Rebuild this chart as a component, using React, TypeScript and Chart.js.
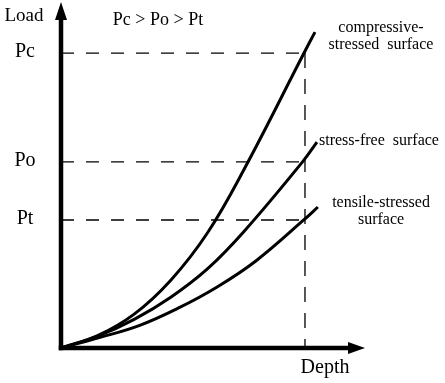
import React, { useEffect, useRef } from "react";
import { Chart, registerables } from "chart.js";

Chart.register(...registerables);

// Load levels on the y axis (Pc, Po, Pt) and the depth mark on the x axis
const loadLevels = [10, 6.31, 4.34];
const loadLabels = ["Pc", "Po", "Pt"];
const depthMark = 10;

// Curve readings (depth, load)
const compressiveX = [0, 1.5, 3, 4.5, 6, 7.5, 9.96, 10.41];
const compressiveY = [0, 0.42, 1.15, 2.3, 3.9, 6.05, 10, 10.71];
const stressFreeX = [0, 1.5, 3, 4.5, 6, 7.5, 9.9, 10.49];
const stressFreeY = [0, 0.4, 0.97, 1.72, 2.68, 3.95, 6.31, 6.98];
const tensileX = [0, 1.6, 3.2, 4.8, 6.4, 8, 9.95, 10.53];
const tensileY = [0, 0.36, 0.76, 1.35, 2.07, 2.96, 4.34, 4.78];

const axisMaxX = 12.46;
const axisMaxY = 11.73;

const SERIF = "'Liberation Serif', 'Times New Roman', serif";

const toPoints = (xs: number[], ys: number[]) => xs.map((x, i) => ({ x, y: ys[i] }));

const decorPlugin = {
  id: "decor",
  afterDraw(chart: any) {
    const ctx = chart.ctx as CanvasRenderingContext2D;
    const xs = chart.scales.x;
    const ys = chart.scales.y;
    const x0 = xs.getPixelForValue(0);
    const y0 = ys.getPixelForValue(0);
    const xEnd = xs.getPixelForValue(axisMaxX);
    const yEnd = ys.getPixelForValue(axisMaxY);
    ctx.save();
    ctx.strokeStyle = "#000";
    ctx.fillStyle = "#000";
    ctx.lineWidth = 4.5;
    ctx.lineCap = "butt";
    // y axis
    ctx.beginPath();
    ctx.moveTo(x0, y0 + 2.25);
    ctx.lineTo(x0, yEnd + 16);
    ctx.stroke();
    // x axis
    ctx.beginPath();
    ctx.moveTo(x0 - 2.25, y0);
    ctx.lineTo(xEnd - 15, y0);
    ctx.stroke();
    // arrows
    ctx.beginPath();
    ctx.moveTo(x0, yEnd);
    ctx.lineTo(x0 - 6, yEnd + 18);
    ctx.lineTo(x0 + 6, yEnd + 18);
    ctx.closePath();
    ctx.fill();
    ctx.beginPath();
    ctx.moveTo(xEnd, y0);
    ctx.lineTo(xEnd - 17, y0 - 6);
    ctx.lineTo(xEnd - 17, y0 + 6);
    ctx.closePath();
    ctx.fill();

    // texts
    ctx.textAlign = "center";
    ctx.textBaseline = "middle";
    ctx.font = `20px ${SERIF}`;
    loadLevels.forEach((v, i) => {
      ctx.fillText(loadLabels[i], x0 - 36, ys.getPixelForValue(v) - 1);
    });
    ctx.font = `19px ${SERIF}`;
    ctx.fillText("Load", 24, 16);
    ctx.font = `20px ${SERIF}`;
    ctx.fillText("Depth", 325, 368);
    ctx.font = `18px ${SERIF}`;
    ctx.fillText("Pc > Po > Pt", 158, 20);

    ctx.font = `16px ${SERIF}`;
    ctx.fillText("compressive-", 381, 28);
    ctx.fillText("stressed  surface", 381, 45);
    ctx.textAlign = "left";
    ctx.fillText("stress-free  surface", 319, 141);
    ctx.textAlign = "center";
    ctx.fillText("tensile-stressed", 381, 203);
    ctx.fillText("surface", 381, 220);
    ctx.restore();
  },
};

export default function App() {
  const ref = useRef<HTMLCanvasElement | null>(null);
  useEffect(() => {
    if (!ref.current) return;
    const curveStyle = {
      showLine: true,
      borderColor: "#000",
      borderWidth: 3,
      pointRadius: 0,
      tension: 0.4,
      fill: false,
    };
    const dashStyle = {
      showLine: true,
      borderColor: "#000",
      borderWidth: 1.3,
      pointRadius: 0,
      fill: false,
    };
    const datasets: any[] = [
      { label: "compressive-stressed surface", data: toPoints(compressiveX, compressiveY), ...curveStyle },
      { label: "stress-free surface", data: toPoints(stressFreeX, stressFreeY), ...curveStyle },
      { label: "tensile-stressed surface", data: toPoints(tensileX, tensileY), ...curveStyle },
      ...loadLevels.map((v, i) => ({
        label: loadLabels[i] + " level",
        data: [{ x: 0, y: v }, { x: depthMark, y: v }],
        borderDash: [13, 12],
        ...dashStyle,
      })),
      {
        label: "depth mark",
        data: [{ x: depthMark, y: loadLevels[0] }, { x: depthMark, y: 0 }],
        borderDash: [15, 11],
        ...dashStyle,
      },
    ];
    const chart = new Chart(ref.current, {
      type: "scatter",
      data: { datasets },
      options: {
        animation: false,
        responsive: false,
        devicePixelRatio: 1,
        layout: { padding: { left: 61, right: 80, top: 2, bottom: 35 } },
        plugins: { legend: { display: false }, tooltip: { enabled: false } },
        scales: {
          x: { type: "linear", min: 0, max: axisMaxX, display: false },
          y: { type: "linear", min: 0, max: axisMaxY, display: false },
        },
      },
      plugins: [decorPlugin],
    });
    return () => chart.destroy();
  }, []);
  return (
    <div style={{ position: "fixed", left: 0, top: 0, width: 445, height: 383, background: "#fff" }}>
      <canvas ref={ref} width={445} height={383} style={{ display: "block" }} />
    </div>
  );
}
